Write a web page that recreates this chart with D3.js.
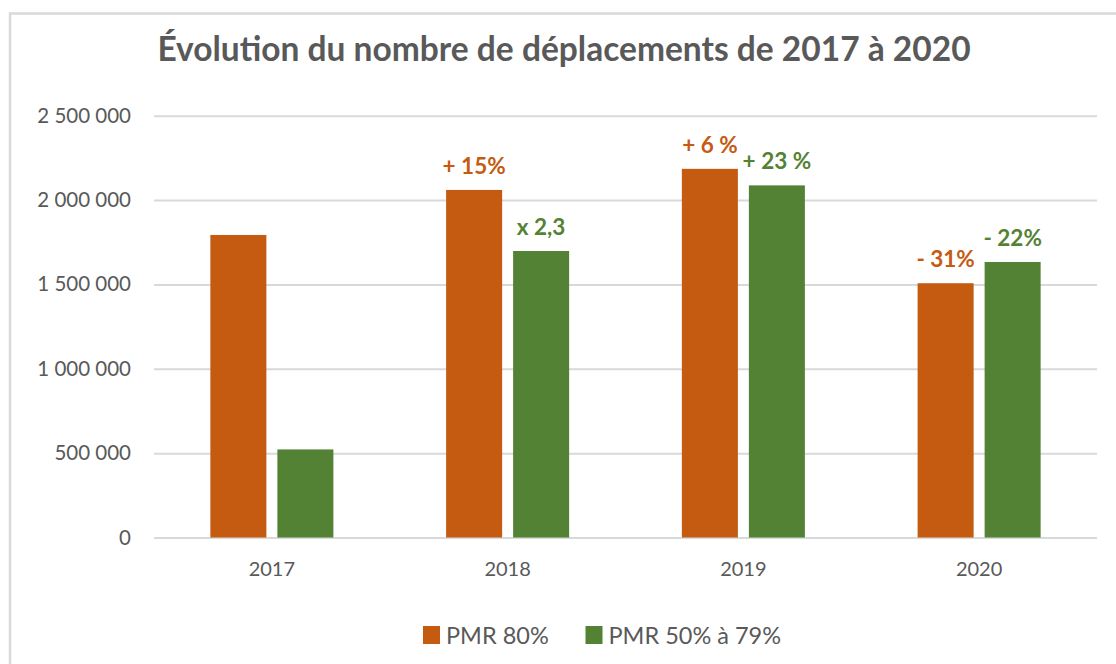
<!DOCTYPE html>
<html>
<head>
<meta charset="utf-8">
<script src="https://cdn.jsdelivr.net/npm/d3@7"></script>
<style>
  body { margin: 0; background: #fff; }
  text { font-family: Lato, "Open Sans", sans-serif; }
</style>
</head>
<body>
<svg id="chart" width="1116" height="664"></svg>
<script>
var years = ["2017", "2018", "2019", "2020"];
var seriesNames = ["PMR 80%", "PMR 50% à 79%"];
var pmr80 = [1793000, 2060000, 2185000, 1507000];
var pmr5079 = [522000, 1698000, 2087000, 1633000];
var labels80 = ["", "+ 15%", "+ 6 %", "- 31%"];
var labels5079 = ["", "x 2,3", "+ 23 %", "- 22%"];
var yTicks = [0, 500000, 1000000, 1500000, 2000000, 2500000];

var colors = ["#c55a11", "#548235"];

var svg = d3.select("#chart"),
    plotLeft = 154, plotRight = 1097,
    plotTop = 115.7, plotBottom = 537.5;

// chart border (right / bottom go off the picture)
svg.append("rect")
    .attr("x", 10).attr("y", 13.5)
    .attr("width", 1200).attr("height", 700)
    .attr("fill", "#fff")
    .attr("stroke", "#d9d9d9")
    .attr("stroke-width", 2.5);

var fr = d3.formatLocale({ decimal: ",", thousands: " ", grouping: [3], currency: ["", " €"] });
var fmt = fr.format(",d");

var x0 = d3.scaleBand().domain(years).range([plotLeft, plotRight]).padding(0);
var x1 = d3.scaleBand().domain(seriesNames).range([0, x0.bandwidth()])
    .paddingInner(0.164).paddingOuter(0.841);
var y = d3.scaleLinear().domain([0, 2500000]).range([plotBottom, plotTop]);

// grid
var yAxis = svg.append("g")
    .attr("transform", "translate(" + plotLeft + ",0)")
    .call(d3.axisLeft(y).tickValues(yTicks).tickFormat(fmt)
        .tickSize(-(plotRight - plotLeft)).tickPadding(23));
yAxis.select(".domain").remove();
yAxis.selectAll(".tick line").attr("stroke", "#d9d9d9").attr("stroke-width", 2);
yAxis.selectAll(".tick text")
    .attr("fill", "#595959")
    .style("font-size", "20.5px")
    .style("font-family", "Lato, sans-serif");

var xAxis = svg.append("g")
    .attr("transform", "translate(0," + plotBottom + ")")
    .call(d3.axisBottom(x0).tickSize(0).tickPadding(24));
xAxis.select(".domain").remove();
xAxis.selectAll(".tick text")
    .attr("fill", "#595959")
    .style("font-size", "20px")
    .style("font-family", "Lato, sans-serif");

var rows = years.map(function(yr, i) {
    return {
        year: yr,
        values: [
            { name: seriesNames[0], v: pmr80[i], label: labels80[i], c: colors[0] },
            { name: seriesNames[1], v: pmr5079[i], label: labels5079[i], c: colors[1] }
        ]
    };
});

var groups = svg.selectAll(".grp")
    .data(rows)
    .enter().append("g")
    .attr("class", "grp")
    .attr("transform", function(d) { return "translate(" + x0(d.year) + ",0)"; });

groups.selectAll("rect")
    .data(function(d) { return d.values; })
    .enter().append("rect")
    .attr("x", function(d) { return x1(d.name); })
    .attr("width", x1.bandwidth())
    .attr("y", function(d) { return y(d.v); })
    .attr("height", function(d) { return plotBottom - y(d.v); })
    .attr("fill", function(d) { return d.c; });

groups.selectAll(".lbl")
    .data(function(d) { return d.values; })
    .enter().append("text")
    .attr("class", "lbl")
    .attr("x", function(d) { return x1(d.name) + x1.bandwidth() / 2; })
    .attr("y", function(d) { return y(d.v) - 16; })
    .attr("text-anchor", "middle")
    .attr("fill", function(d) { return d.c; })
    .style("font-size", "22.5px")
    .style("font-weight", "bold")
    .text(function(d) { return d.label; });

// title
svg.append("text")
    .attr("x", 564)
    .attr("y", 61)
    .attr("text-anchor", "middle")
    .attr("fill", "#595959")
    .style("font-size", "33.5px")
    .style("font-weight", "bold")
    .text("Évolution du nombre de déplacements de 2017 à 2020");

// legend
var legendX = [423, 585.5];
var legend = svg.selectAll(".leg")
    .data(seriesNames)
    .enter().append("g")
    .attr("class", "leg")
    .attr("transform", function(d, i) { return "translate(" + legendX[i] + ",626)"; });
legend.append("rect")
    .attr("width", 17).attr("height", 18)
    .attr("fill", function(d, i) { return colors[i]; });
legend.append("text")
    .attr("x", 23).attr("y", 17.5)
    .attr("fill", "#595959")
    .style("font-size", "23.5px")
    .text(function(d) { return d; });
</script>
</body>
</html>
